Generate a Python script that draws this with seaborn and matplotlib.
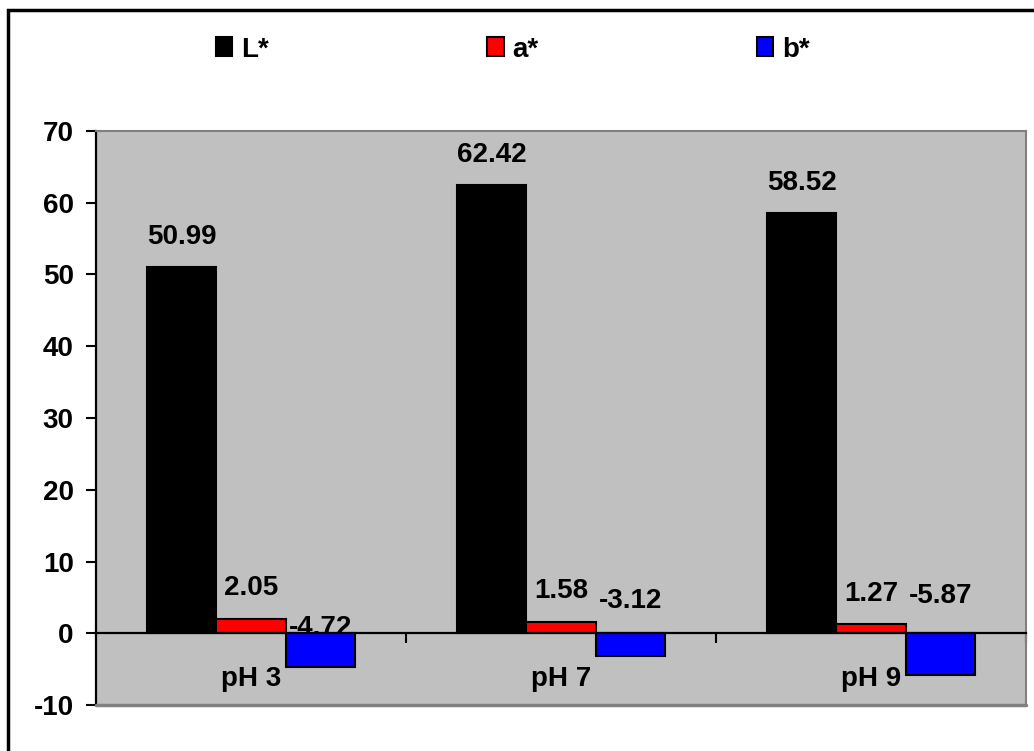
import matplotlib
matplotlib.use("Agg")
import matplotlib.pyplot as plt
import seaborn as sns
import pandas as pd
from matplotlib.patches import Rectangle, Patch

# Colour coordinates measured at three pH levels
categories = ["pH 3", "pH 7", "pH 9"]
series = ["L*", "a*", "b*"]
L_values = [50.99, 62.42, 58.52]
a_values = [2.05, 1.58, 1.27]
b_values = [-4.72, -3.12, -5.87]
y_ticks = [-10, 0, 10, 20, 30, 40, 50, 60, 70]

colors = {"L*": "#000000", "a*": "#FF0000", "b*": "#0000FF"}

df = pd.DataFrame({
    "pH": categories * 3,
    "param": ["L*"] * 3 + ["a*"] * 3 + ["b*"] * 3,
    "value": L_values + a_values + b_values,
})

sns.set_theme(style="white")
plt.rcParams["font.family"] = ["Liberation Sans", "DejaVu Sans"]
plt.rcParams["font.weight"] = "bold"
for key in ("text.color", "xtick.color", "ytick.color", "axes.labelcolor"):
    plt.rcParams[key] = "black"

FS = 20

fig = plt.figure(figsize=(10.34, 7.51), dpi=100)
ax = fig.add_axes([96 / 1034, 46 / 751, 930 / 1034, 574 / 751])
ax.set_facecolor("#C0C0C0")

sns.barplot(data=df, x="pH", y="value", hue="param", order=categories,
            hue_order=series, palette=colors, width=0.67, dodge=True,
            edgecolor="black", linewidth=1.5, saturation=1, errorbar=None,
            legend=False, ax=ax)

ax.set_ylim(-10, 70)
ax.set_xlim(-0.5, 2.5)
ax.set_yticks(y_ticks)
ax.set_yticklabels([str(t) for t in y_ticks], fontsize=FS, fontweight="bold",
                   color="black")
ax.set_xlabel("")
ax.set_ylabel("")

# Horizontal axis drawn at zero with ticks between the groups
ax.spines["bottom"].set_position(("data", 0))
ax.spines["bottom"].set_color("black")
ax.spines["bottom"].set_linewidth(1.6)
ax.set_xticks([0.5, 1.5, 2.5])
ax.set_xticklabels([])
ax.tick_params(axis="x", direction="out", length=7, width=1.5, color="black",
               bottom=True)
ax.tick_params(axis="y", direction="out", length=7, width=1.5, color="black",
               left=True, pad=9)
ax.spines["left"].set_color("black")
ax.spines["left"].set_linewidth(1.6)
for side in ("top", "right"):
    ax.spines[side].set_color("#808080")
    ax.spines[side].set_linewidth(1.5)
ax.axhline(-10, color="#808080", lw=2.5, clip_on=False, zorder=5)

# Category names just below the zero line
for i, cat in enumerate(categories):
    ax.annotate(cat, xy=(i, 0), xytext=(0, -33), textcoords="offset points",
                ha="center", va="center", fontsize=FS, fontweight="bold",
                color="black")

# Value labels (negative-bar labels sit behind the bars)
neg_label_y = [0.7, 4.5, 5.2]
for s_idx, (name, vals) in enumerate(zip(series, [L_values, a_values, b_values])):
    container = ax.containers[s_idx]
    for i, (bar, v) in enumerate(zip(container, vals)):
        xc = bar.get_x() + bar.get_width() / 2
        if v >= 0:
            ax.annotate(f"{v:.2f}", xy=(xc, v), xytext=(0, 22),
                        textcoords="offset points", ha="center", va="center",
                        fontsize=FS, fontweight="bold", color="black")
        else:
            ax.text(xc, neg_label_y[i], f"{v:.2f}", ha="center", va="center",
                    fontsize=FS, fontweight="bold", color="black", zorder=0.5)

# Legend across the top
handles = [Patch(facecolor=colors[s], edgecolor="black", linewidth=1.5)
           for s in series]
fig.legend(handles, series, loc="center", bbox_to_anchor=(0.496, 0.934),
           ncol=3, frameon=False, handlelength=0.6,
           handleheight=0.68, handletextpad=0.32, columnspacing=7.85,
           prop={"weight": "bold", "size": FS})

# Outer chart frame
fig.patches.append(Rectangle((8 / 1034, -0.05), 1.1, 1 - 10 / 751 + 0.05,
                             transform=fig.transFigure, fill=False,
                             edgecolor="black", linewidth=2.5))

fig.savefig("out.png", dpi=100, facecolor="white")
